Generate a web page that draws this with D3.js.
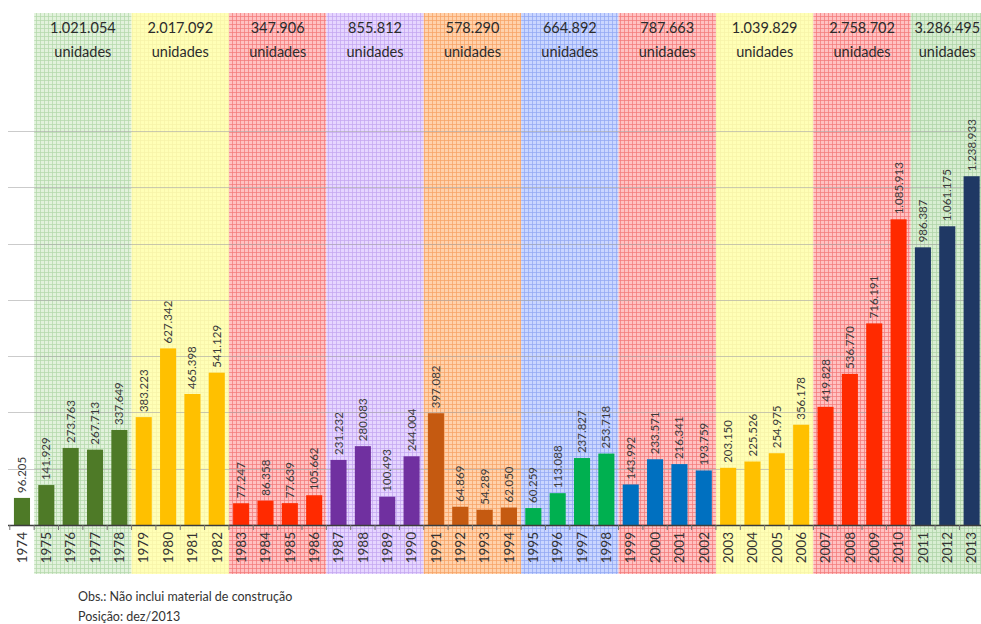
<!DOCTYPE html>
<html>
<head>
<meta charset="utf-8">
<script src="https://cdn.jsdelivr.net/npm/d3@7"></script>
<style>
  html, body { margin: 0; padding: 0; background: #fff; }
  svg { display: block; }
  text { font-family: Lato, "Open Sans", sans-serif; }
</style>
</head>
<body>
<svg id="chart" width="981" height="624"></svg>
<script>
// ---- data ----
const years = d3.range(1974, 2014).map(String);
const values = [96205, 141929, 273763, 267713, 337649,
  383223, 627342, 465398, 541129,
  77247, 86358, 77639, 105662,
  231232, 280083, 100493, 244004,
  397082, 64869, 54289, 62050,
  60259, 113088, 237827, 253718,
  143992, 233571, 216341, 193759,
  203150, 225526, 254975, 356178,
  419828, 536770, 716191, 1085913,
  986387, 1061175, 1238933];
const groupStart = ["1975", "1979", "1983", "1987", "1991", "1995", "1999", "2003", "2007", "2011"];
const groupEnd   = ["1978", "1982", "1986", "1990", "1994", "1998", "2002", "2006", "2010", "2013"];
const groupTotals = ["1.021.054", "2.017.092", "347.906", "855.812", "578.290", "664.892", "787.663", "1.039.829", "2.758.702", "3.286.495"];
const groupUnit = "unidades";
const gridTicks = [200000, 400000, 600000, 800000, 1000000, 1200000, 1400000];
const footnotes = ["Obs.: Não inclui material de construção", "Posição: dez/2013"];

// ---- styles ----
const barColors = ["#4e7a27", "#ffc000", "#ff2a00", "#7030a0", "#c55a11", "#00b050", "#0070c0", "#ffc000", "#ff2a00", "#1f3864"];
const bandBase  = ["#e2f2dc", "#ffffb6", "#ffc2c2", "#e6d6ff", "#ffd2ac", "#cad6ff", "#ffc2c2", "#ffffb6", "#ffc2c2", "#d8eed2"];
const bandLine  = ["#b4d8ac", "#f6f2a8", "#f27a7a", "#c4a6f0", "#f6a266", "#92a8f2", "#f27a7a", "#f6f2a8", "#f27a7a", "#aed2a6"];

const svg = d3.select("#chart");
const baseY = 525;
const x = d3.scaleBand().domain(years).range([9.8, 983.8]).paddingInner(0.34).paddingOuter(0.17);
const y = d3.scaleLinear().domain([0, 1600000]).range([baseY, baseY - 8 * 56.3]);
const step = x.step();
const left = yr => x(yr) + x.bandwidth() / 2 - step / 2;
const right = yr => x(yr) + x.bandwidth() / 2 + step / 2;

// patterns
const defs = svg.append("defs");
groupStart.forEach((g, i) => {
  const p = defs.append("pattern").attr("id", "pat" + i)
    .attr("patternUnits", "userSpaceOnUse").attr("width", 4).attr("height", 4);
  p.append("rect").attr("width", 4).attr("height", 4).attr("fill", bandBase[i]);
  p.append("rect").attr("x", 0).attr("y", 0).attr("width", 1).attr("height", 4).attr("fill", bandLine[i]).attr("opacity", 0.75);
  p.append("rect").attr("x", 0).attr("y", 0).attr("width", 4).attr("height", 1).attr("fill", bandLine[i]).attr("opacity", 0.75);
});

// background bands
const bandTop = 13, bandBottom = 574;
svg.append("g").selectAll("rect").data(groupStart).join("rect")
  .attr("x", (d, i) => left(d))
  .attr("y", bandTop)
  .attr("width", (d, i) => right(groupEnd[i]) - left(d))
  .attr("height", bandBottom - bandTop)
  .attr("fill", (d, i) => `url(#pat${i})`);

// gridlines
svg.append("g").selectAll("line").data(gridTicks).join("line")
  .attr("x1", 8).attr("x2", 981)
  .attr("y1", d => Math.round(y(d)) + 0.5).attr("y2", d => Math.round(y(d)) + 0.5)
  .attr("stroke", "#a8a8a8").attr("stroke-opacity", 0.6).attr("stroke-width", 1);

// group index of each year
const groupOf = yr => {
  let gi = 0;
  groupStart.forEach((g, i) => { if (+yr >= +g) gi = i; });
  return gi;
};

// bars
svg.append("g").selectAll("rect").data(years).join("rect")
  .attr("x", d => x(d))
  .attr("y", (d, i) => y(values[i]))
  .attr("width", x.bandwidth())
  .attr("height", (d, i) => baseY - y(values[i]))
  .attr("fill", d => barColors[groupOf(d)]);

// value labels
const fmt = v => d3.format(",")(v).replace(/,/g, ".");
svg.append("g").selectAll("text").data(years).join("text")
  .attr("transform", (d, i) => `translate(${x(d) + x.bandwidth() / 2},${y(values[i]) - 5}) rotate(-90)`)
  .attr("dy", "0.35em")
  .attr("text-anchor", "start")
  .attr("font-size", 11.5)
  .attr("fill", "#3a3a3a")
  .text((d, i) => fmt(values[i]));

// x axis
const axis = svg.append("g").attr("transform", `translate(0,${baseY})`)
  .call(d3.axisBottom(x).tickSize(0).tickFormat(""));
axis.select(".domain").remove();
svg.append("line").attr("x1", 8).attr("x2", 984).attr("y1", baseY + 0.5).attr("y2", baseY + 0.5)
  .attr("stroke", "#3c3c3c").attr("stroke-width", 1.3);
svg.append("g").selectAll("line").data(years).join("line")
  .attr("x1", d => left(d)).attr("x2", d => left(d))
  .attr("y1", baseY).attr("y2", baseY + 5)
  .attr("stroke", "#777");
svg.append("g").selectAll("text").data(years).join("text")
  .attr("transform", d => `translate(${x(d) + x.bandwidth() / 2},${baseY + 7}) rotate(-90)`)
  .attr("dy", "0.35em")
  .attr("text-anchor", "end")
  .attr("font-size", 13.5)
  .attr("fill", "#333")
  .text(d => d);

// group headers
const hdr = svg.append("g");
groupStart.forEach((g, i) => {
  const cx = (left(g) + Math.min(right(groupEnd[i]), 984)) / 2;
  hdr.append("text").attr("x", cx).attr("y", 33).attr("text-anchor", "middle")
    .attr("font-size", 14.5).attr("fill", "#2b2b2b").text(groupTotals[i]);
  hdr.append("text").attr("x", cx).attr("y", 57).attr("text-anchor", "middle")
    .attr("font-size", 14.5).attr("fill", "#2b2b2b").text(groupUnit);
});

// footnotes
svg.append("g").selectAll("text").data(footnotes).join("text")
  .attr("x", 78).attr("y", (d, i) => 601 + i * 20)
  .attr("font-size", 12.5).attr("fill", "#333")
  .text(d => d);
</script>
</body>
</html>
